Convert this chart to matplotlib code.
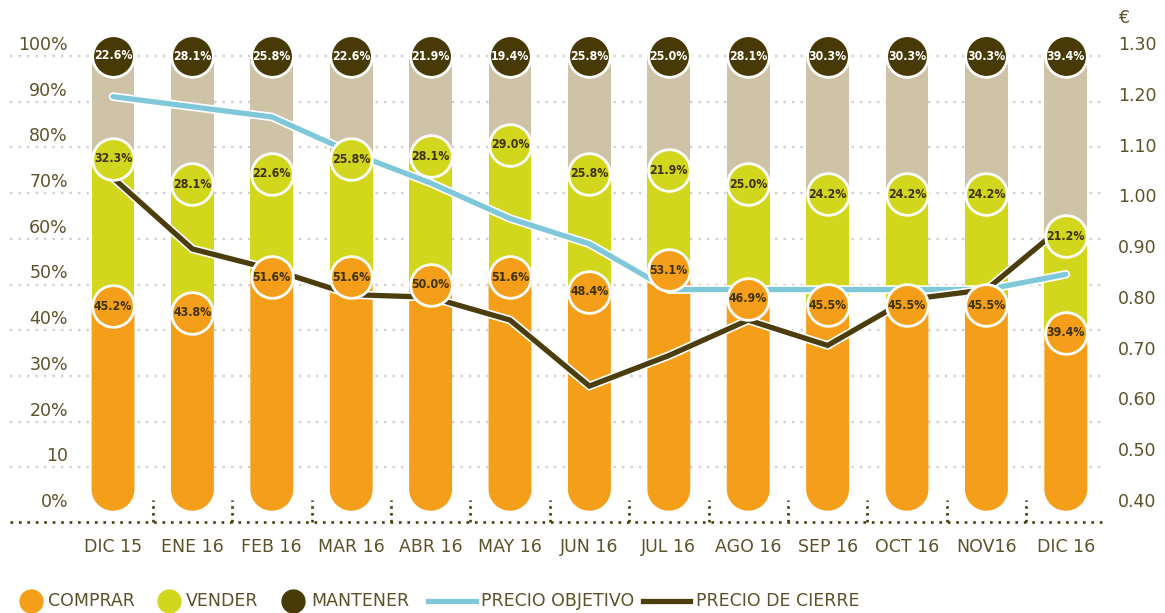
import matplotlib
matplotlib.use('Agg')
import matplotlib.pyplot as plt
from matplotlib.patches import Polygon
from matplotlib.lines import Line2D
import matplotlib.patheffects as pe
import matplotlib.transforms as mtransforms
import numpy as np

# ---------------- data ----------------
categories = ['DIC 15', 'ENE 16', 'FEB 16', 'MAR 16', 'ABR 16', 'MAY 16', 'JUN 16',
              'JUL 16', 'AGO 16', 'SEP 16', 'OCT 16', 'NOV16', 'DIC 16']
comprar = [45.2, 43.8, 51.6, 51.6, 50.0, 51.6, 48.4, 53.1, 46.9, 45.5, 45.5, 45.5, 39.4]
vender = [32.3, 28.1, 22.6, 25.8, 28.1, 29.0, 25.8, 21.9, 25.0, 24.2, 24.2, 24.2, 21.2]
mantener = [22.6, 28.1, 25.8, 22.6, 21.9, 19.4, 25.8, 25.0, 28.1, 30.3, 30.3, 30.3, 39.4]
precio_objetivo = [1.22, 1.20, 1.18, 1.11, 1.05, 0.98, 0.93, 0.84, 0.84, 0.84, 0.84, 0.84, 0.87]
precio_cierre = [1.06, 0.92, 0.88, 0.83, 0.825, 0.78, 0.65, 0.71, 0.78, 0.73, 0.82, 0.84, 0.97]
left_ticks = [0, 10, 20, 30, 40, 50, 60, 70, 80, 90, 100]
left_labels = ['0%', '10', '20%', '30%', '40%', '50%', '60%', '70%', '80%', '90%', '100%']
right_ticks = [0.40, 0.50, 0.60, 0.70, 0.80, 0.90, 1.00, 1.10, 1.20, 1.30]
legend_labels = ['COMPRAR', 'VENDER', 'MANTENER', 'PRECIO OBJETIVO', 'PRECIO DE CIERRE']

# ---------------- style ----------------
C_ORANGE = '#F49E19'
C_LIME = '#D2D71E'
C_TAN = '#CEC3A6'
C_DARK = '#483A07'
C_BLUE = '#7EC8DA'
C_LINE = '#4B3D0C'
C_TEXT = '#5c5128'
C_GRID = '#cfcfcf'

W, H, DPI = 1165, 613, 100
fig = plt.figure(figsize=(W / DPI, H / DPI), dpi=DPI)
fig.patch.set_facecolor('white')

# pixel layout
x0px, dxpx = 113.0, 79.4     # first category centre, spacing
y0px, dypx = 513.0, 4.57     # 0 % position, px per percent
xlim = (-x0px / dxpx, (W - x0px) / dxpx)
ylim = ((y0px - H) / dypx, y0px / dypx)

ax = fig.add_axes([0, 0, 1, 1])
ax.set_xlim(*xlim)
ax.set_ylim(*ylim)
ax.axis('off')

# right axis: 0.40 <-> 0 %, 1.30 <-> 100 %
r0, r1 = 0.40, 1.30
k = (r1 - r0) / 100.0
ax2 = ax.twinx()
ax2.set_ylim(r0 + ylim[0] * k, r0 + ylim[1] * k)
ax2.set_xlim(*xlim)
ax2.axis('off')

ax3 = fig.add_axes([0, 0, 1, 1], sharex=ax, sharey=ax)
ax3.axis('off')
ax3.patch.set_visible(False)

x = np.arange(len(categories))
comprar_a = np.array(comprar)
vender_a = np.array(vender)
mantener_a = np.array(mantener)

def px(p):
    return p / DPI

# gridlines
gx0 = (10 - x0px) / dxpx
gx1 = (1105 - x0px) / dxpx
ax.hlines(left_ticks[1:], gx0, gx1, colors=C_GRID, linestyles=(0, (1, 2.6)),
          linewidth=1.7, zorder=0)
# bottom dotted axis
base_y = (y0px - 522) / dypx
ax.hlines(base_y, gx0, (1103 - x0px) / dxpx, colors=C_LINE, linestyles=(0, (1, 2.2)),
          linewidth=1.9, zorder=2)
ax.vlines(x[:-1] + 0.5, base_y, (y0px - 500) / dypx, colors=C_LINE,
          linestyles=(0, (1, 1.6)), linewidth=1.9, zorder=2)

# bars: orange with rounded bottom, then stacked lime and tan
bw = 0.54
ry = (bw / 2) * dxpx / dypx
yc = 0.5 + ry
theta = np.linspace(0, -np.pi, 60)
for xi, top in zip(x, comprar_a):
    verts = [(xi - bw / 2, top), (xi + bw / 2, top)]
    verts += list(zip(xi + (bw / 2) * np.cos(theta), yc + ry * np.sin(theta)))
    ax.add_patch(Polygon(verts, closed=True, facecolor=C_ORANGE, edgecolor='none',
                         zorder=1))
ax.bar(x, vender_a, bottom=comprar_a, width=bw, color=C_LIME, zorder=1, linewidth=0)
ax.bar(x, mantener_a, bottom=comprar_a + vender_a, width=bw, color=C_TAN, zorder=1,
       linewidth=0)

# price lines on right axis
stroke = lambda lw: [pe.Stroke(linewidth=lw + 2.4, foreground='white'), pe.Normal()]
ax2.plot(x, precio_objetivo, color=C_BLUE, lw=3.8, solid_capstyle='round',
         solid_joinstyle='miter', path_effects=stroke(3.8), zorder=3)
ax2.plot(x, precio_cierre, color=C_LINE, lw=3.8, solid_capstyle='butt',
         solid_joinstyle='miter', path_effects=stroke(3.8), zorder=3)

# circles with labels
S = 900
lab_kw = dict(ha='center', va='center', fontsize=8.8, fontweight='bold',
              fontstretch='condensed', zorder=6)
tops = [comprar_a, comprar_a + vender_a, comprar_a + vender_a + mantener_a]
vals = [comprar_a, vender_a, mantener_a]
fills = [C_ORANGE, C_LIME, C_DARK]
tcols = ['#3d3208', '#3d3208', 'white']
for ys, vs, fc, tc in zip(tops, vals, fills, tcols):
    ax3.scatter(x, ys, s=S, c=fc, edgecolors='white', linewidths=2.0, zorder=5)
    for xi, yi, vi in zip(x, ys, vs):
        ax3.text(xi, yi, f'{vi:.1f}%', color=tc, **lab_kw)

# tick labels
up = mtransforms.ScaledTranslation(0, px(11), fig.dpi_scale_trans)
lx = (68 - x0px) / dxpx
for t, lab in zip(left_ticks, left_labels):
    ax.text(lx, t, lab, ha='right', va='center', fontsize=12.5, color=C_TEXT,
            transform=ax.transData + up)
rx = (1118 - x0px) / dxpx
for t in right_ticks:
    ax2.text(rx, t, f'{t:.2f}', ha='left', va='center', fontsize=12.5, color=C_TEXT,
             transform=ax2.transData + up)
eur = mtransforms.ScaledTranslation(0, px(38), fig.dpi_scale_trans)
ax2.text(rx, r1, '€', ha='left', va='center', fontsize=12.5, color=C_TEXT,
         transform=ax2.transData + eur)
down = mtransforms.ScaledTranslation(0, -px(25), fig.dpi_scale_trans)
for xi, cat in zip(x, categories):
    ax.text(xi, base_y, cat, ha='center', va='center', fontsize=12.5, color=C_TEXT,
            transform=ax.transData + down)

# legend (manual)
ly = 1 - 601 / H
def fx(p):
    return p / W
marker_specs = [(31, C_ORANGE, 48), (169, C_LIME, 186), (293, C_DARK, 311)]
for (cx, col, tx), lab in zip(marker_specs, legend_labels[:3]):
    fig.add_artist(Line2D([fx(cx)], [ly], marker='o', ms=16.5, color=col, mec=col,
                          transform=fig.transFigure))
    fig.text(fx(tx), ly, lab, ha='left', va='center', fontsize=12.5, color=C_TEXT)
line_specs = [(428, 476, C_BLUE, 481), (643, 690, C_LINE, 696)]
for (a, b, col, tx), lab in zip(line_specs, legend_labels[3:]):
    fig.add_artist(Line2D([fx(a), fx(b)], [ly, ly], lw=3.8, color=col,
                          transform=fig.transFigure))
    fig.text(fx(tx), ly, lab, ha='left', va='center', fontsize=12.5, color=C_TEXT)

fig.savefig('out.png', dpi=DPI, facecolor='white')
